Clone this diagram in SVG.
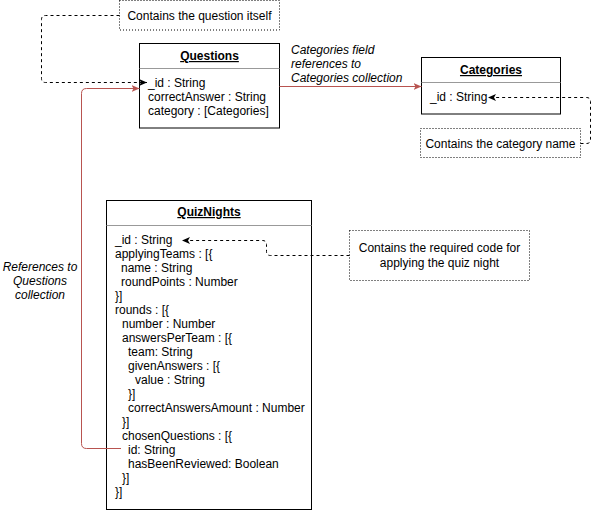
<svg xmlns="http://www.w3.org/2000/svg" width="599" height="511" viewBox="0 0 599 511">
<style>
text{font-family:"Liberation Sans",Arial,sans-serif;font-size:12px;fill:#000}
.title{font-weight:bold;text-decoration:underline;text-anchor:middle}
.it{font-style:italic}
.mid{text-anchor:middle}
.box{fill:#fff;stroke:#000;stroke-width:1}
.sep{stroke:#999;stroke-width:1}
.note{fill:#fff;stroke:#000;stroke-width:1;stroke-dasharray:1 2}
.dash{fill:none;stroke:#000;stroke-width:1;stroke-dasharray:3 3}
.red{fill:none;stroke:#b85450;stroke-width:1}
</style>
<defs>
<marker id="ab" markerUnits="userSpaceOnUse" markerWidth="8" markerHeight="8" viewBox="0 0 8 8" refX="8" refY="4" orient="auto">
<path d="M0,0.5 L8,4 L0,7.5 L2,4 Z" fill="#000"/>
</marker>
<marker id="ar" markerUnits="userSpaceOnUse" markerWidth="8" markerHeight="8" viewBox="0 0 8 8" refX="8" refY="4" orient="auto">
<path d="M0,0.5 L8,4 L0,7.5 L2,4 Z" fill="#b85450"/>
</marker>
</defs>
<g id="note-question">
<rect class="note" x="119.5" y="0.5" width="160" height="29.5"/>
<text class="mid" x="199.5" y="20">Contains the question itself</text>
</g>
<g id="questions">
<rect class="box" x="139.5" y="43.5" width="140" height="84.5"/>
<line class="sep" x1="139.5" y1="68.5" x2="279.5" y2="68.5"/>
<text class="title" x="209.5" y="60">Questions</text>
<text x="148" y="87">_id : String</text>
<text x="148" y="101">correctAnswer : String</text>
<text x="148" y="115">category : [Categories]</text>
</g>
<g id="categories">
<rect class="box" x="421.5" y="57.5" width="139" height="56.5"/>
<line class="sep" x1="421.5" y1="82.5" x2="560.5" y2="82.5"/>
<text class="title" x="491" y="74">Categories</text>
<text x="430" y="101">_id : String</text>
</g>
<g id="note-category">
<rect class="note" x="420.5" y="128.5" width="160" height="29"/>
<text class="mid" x="500.5" y="148">Contains the category name</text>
</g>
<g id="quiznights">
<rect class="box" x="106.5" y="200.5" width="205" height="309"/>
<line class="sep" x1="106.5" y1="225.5" x2="311.5" y2="225.5"/>
<text class="title" x="209" y="216">QuizNights</text>
<text x="115" y="244">_id : String</text>
<text x="115" y="258">applyingTeams : [{</text>
<text x="121" y="272">name : String</text>
<text x="121" y="286">roundPoints : Number</text>
<text x="115" y="300">}]</text>
<text x="115" y="314">rounds : [{</text>
<text x="122" y="328">number : Number</text>
<text x="122" y="342">answersPerTeam : [{</text>
<text x="128" y="356">team: String</text>
<text x="128" y="370">givenAnswers : [{</text>
<text x="135" y="384">value : String</text>
<text x="128" y="398">}]</text>
<text x="128" y="412">correctAnswersAmount : Number</text>
<text x="122" y="426">}]</text>
<text x="122" y="440">chosenQuestions : [{</text>
<text x="128" y="454">id: String</text>
<text x="128" y="468">hasBeenReviewed: Boolean</text>
<text x="122" y="482">}]</text>
<text x="115" y="496">}]</text>
</g>
<g id="note-quiz">
<rect class="note" x="349.5" y="230.5" width="180" height="50"/>
<text class="mid" x="439.5" y="252">Contains the required code for</text>
<text class="mid" x="439.5" y="267">applying the quiz night</text>
</g>
<g id="connectors">
<path class="dash" d="M119.5,15.5 L45.5,15.5 Q41.5,15.5 41.5,19.5 L41.5,78.5 Q41.5,82.5 45.5,82.5 L147,82.5" marker-end="url(#ab)"/>
<path class="dash" d="M580.5,143.5 L586.5,143.5 Q590.5,143.5 590.5,139.5 L590.5,101.5 Q590.5,97.5 586.5,97.5 L488,97.5" marker-end="url(#ab)"/>
<path class="dash" d="M349.5,255.5 L270.5,255.5 Q266.5,255.5 266.5,251.5 L266.5,244.5 Q266.5,240.5 262.5,240.5 L182,240.5" marker-end="url(#ab)"/>
<path class="red" d="M121,448.5 L86.5,448.5 Q81.5,448.5 81.5,443.5 L81.5,93.5 Q81.5,88.5 86.5,88.5 L139.5,88.5" marker-end="url(#ar)"/>
<path class="red" d="M279.5,86.5 L421.5,86.5" marker-end="url(#ar)"/>
<text class="it" x="291" y="54">Categories field</text>
<text class="it" x="291" y="68">references to</text>
<text class="it" x="291" y="82">Categories collection</text>
<text class="it mid" x="40" y="271">References to</text>
<text class="it mid" x="40" y="285">Questions</text>
<text class="it mid" x="40" y="299">collection</text>
</g>
</svg>
